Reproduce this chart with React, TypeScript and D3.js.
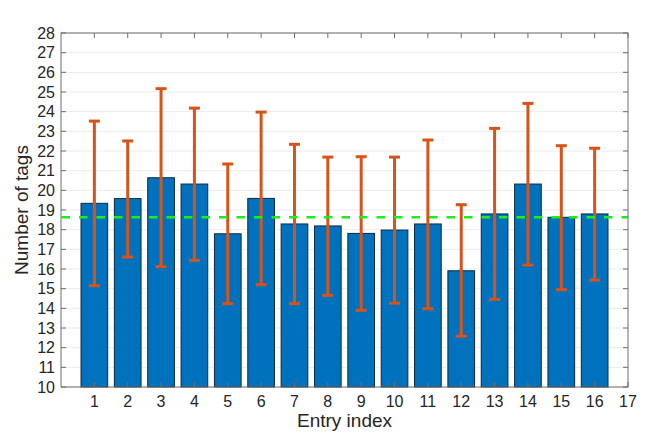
import * as d3 from 'd3';
import React from 'react';

// values
const entries = [1, 2, 3, 4, 5, 6, 7, 8, 9, 10, 11, 12, 13, 14, 15, 16];
const meanTags = [19.34, 19.58, 20.64, 20.32, 17.79, 19.59, 18.29, 18.19, 17.81, 17.98, 18.29, 15.91, 18.8, 20.32, 18.63, 18.8];
const upperTags = [23.52, 22.51, 25.17, 24.18, 21.34, 23.98, 22.34, 21.69, 21.71, 21.69, 22.56, 19.27, 23.15, 24.42, 22.27, 22.14];
const lowerTags = [15.15, 16.61, 16.12, 16.44, 14.24, 15.2, 14.24, 14.66, 13.9, 14.26, 13.98, 12.58, 14.46, 16.2, 14.95, 15.44];
const overallMean = 18.63;
const xTicks = d3.range(1, 18);
const yTicks = d3.range(10, 29);

export default function App() {
  const width = 664;
  const height = 441;
  const left = 61;
  const right = 628;
  const top = 33;
  const bottom = 387;

  const x = d3.scaleLinear().domain([0, 17]).range([left, right]);
  const y = d3.scaleLinear().domain([10, 28]).range([bottom, top]);
  const barW = x(0.8) - x(0);
  const capW = 11;
  const tick = 5;
  const axisColor = '#6e6e6e';
  const font = '"Liberation Sans", Arial, sans-serif';

  return (
    <svg
      width={width}
      height={height}
      style={{ position: 'absolute', left: 0, top: 0, background: '#fff' }}
      fontFamily={font}
    >
      {/* grid */}
      <g>
        {yTicks.map(t => (
          <line key={t} x1={left} x2={right} y1={y(t)} y2={y(t)} stroke="#ebebeb" strokeWidth={1} />
        ))}
      </g>

      {/* bars */}
      <g>
        {entries.map((e, i) => (
          <rect
            key={e}
            x={x(e) - barW / 2}
            y={y(meanTags[i])}
            width={barW}
            height={y(10) - y(meanTags[i])}
            fill="#0072BD"
            stroke="#0d2a3f"
            strokeWidth={1}
          />
        ))}
      </g>

      {/* error bars */}
      <g stroke="#D95319" strokeWidth={3}>
        {entries.map((e, i) => (
          <g key={e}>
            <line x1={x(e)} x2={x(e)} y1={y(upperTags[i])} y2={y(lowerTags[i])} />
            <line x1={x(e) - capW / 2} x2={x(e) + capW / 2} y1={y(upperTags[i])} y2={y(upperTags[i])} />
            <line x1={x(e) - capW / 2} x2={x(e) + capW / 2} y1={y(lowerTags[i])} y2={y(lowerTags[i])} />
          </g>
        ))}
      </g>

      {/* mean line */}
      <line
        x1={left}
        x2={right}
        y1={y(overallMean)}
        y2={y(overallMean)}
        stroke="#19f019"
        strokeWidth={2.5}
        strokeDasharray="8.5,9"
        strokeDashoffset={-0.5}
      />

      {/* box */}
      <rect x={left} y={top} width={right - left} height={bottom - top} fill="none" stroke={axisColor} strokeWidth={1} />

      {/* ticks */}
      <g stroke={axisColor}>
        {yTicks.map(t => (
          <g key={t}>
            <line x1={left} x2={left + tick} y1={y(t)} y2={y(t)} />
            <line x1={right} x2={right - tick} y1={y(t)} y2={y(t)} />
          </g>
        ))}
        {xTicks.map(t => (
          <g key={t}>
            <line x1={x(t)} x2={x(t)} y1={bottom} y2={bottom - tick} />
            <line x1={x(t)} x2={x(t)} y1={top} y2={top + tick} />
          </g>
        ))}
      </g>

      {/* tick labels */}
      <g fontSize={16} fill="#262626">
        {yTicks.map(t => (
          <text key={t} x={left - 6} y={y(t)} textAnchor="end" dominantBaseline="central">
            {t}
          </text>
        ))}
        {xTicks.map(t => (
          <text key={t} x={x(t)} y={bottom + 20} textAnchor="middle">
            {t}
          </text>
        ))}
      </g>

      {/* axis labels */}
      <text x={(left + right) / 2} y={427} textAnchor="middle" fontSize={19} fill="#262626">
        Entry index
      </text>
      <text
        transform={`translate(28,${(top + bottom) / 2}) rotate(-90)`}
        textAnchor="middle"
        fontSize={19}
        fill="#262626"
      >
        Number of tags
      </text>
    </svg>
  );
}
